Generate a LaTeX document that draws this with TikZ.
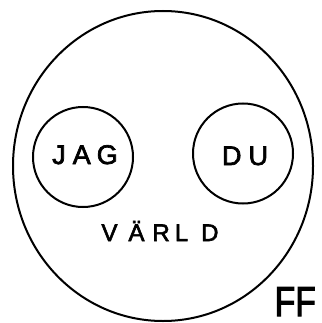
\documentclass[tikz,border=0pt]{standalone}
\usepackage{fontspec}
\setmainfont{Liberation Sans}
\newfontfamily\lblfont{Liberation Sans}[FakeBold=2.5]
\newfontfamily\fffont{Liberation Sans}[FakeBold=2.5,FakeStretch=0.8]
\begin{document}
\begin{tikzpicture}[x=1pt,y=-1pt,
  ring/.style={draw=black,line width=2pt,fill=none},
  lbl/.style={inner sep=0pt,anchor=base,font=\lblfont\fontsize{27}{27}\selectfont},
  wlbl/.style={inner sep=0pt,anchor=base,font=\lblfont\fontsize{24}{24}\selectfont}]
\useasboundingbox (0,0) rectangle (321,323);
\draw[ring] (163,166) ellipse [x radius=150, y radius=155];
\node[ring,circle,minimum size=100pt,inner sep=0pt] (jag) at (83,157) {};
\node[ring,circle,minimum size=100pt,inner sep=0pt] (du) at (243,153.5) {};
\node[lbl] (jagt) at (85,164) {J\hspace{7pt}A\hspace{6pt}G};
\node[lbl] (dut) at (245,165) {D\hspace{7pt}U};
\node[wlbl] (varld) at (160,241) {V\hspace{11pt}Ä\hspace{8pt}R\hspace{5pt}L\hspace{13pt}D};
\node[inner sep=0pt,anchor=base east,font=\fffont\fontsize{42}{42}\selectfont] (ff) at (316,316) {FF};
\end{tikzpicture}
\end{document}
